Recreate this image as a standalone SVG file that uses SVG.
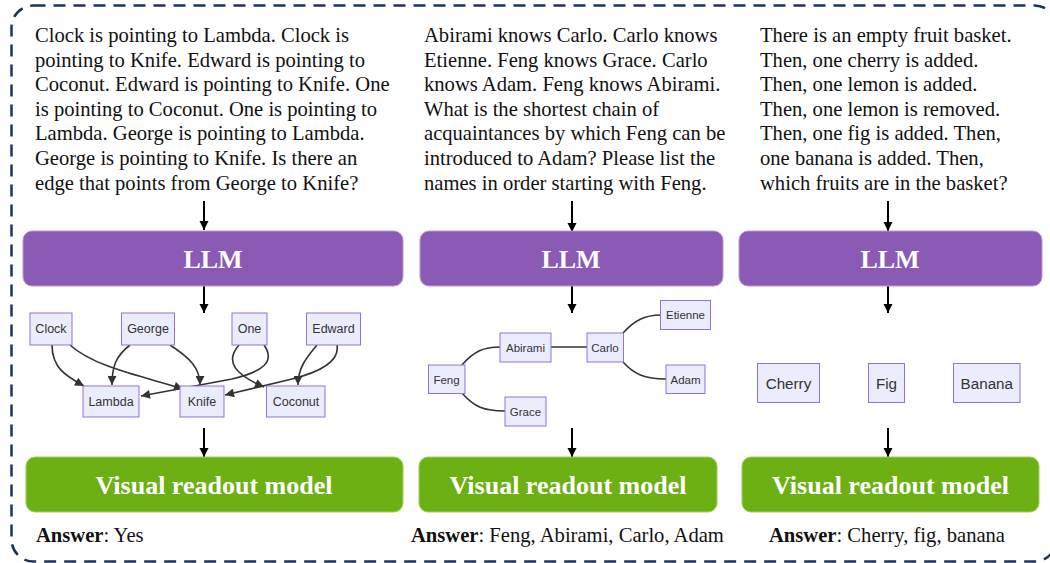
<svg xmlns="http://www.w3.org/2000/svg" width="1050" height="563" viewBox="0 0 1050 563">
<style>
.q{font-family:"Liberation Serif","Times New Roman",serif;font-size:20.6px;fill:#111}
.ans{font-family:"Liberation Serif","Times New Roman",serif;font-size:20.6px;fill:#111}
.llm{fill:#8b5ab5;stroke:#b999d8;stroke-width:1}
.vr{fill:#6cb014;stroke:#9ccf5c;stroke-width:1}
.bt{font-family:"Liberation Serif","Times New Roman",serif;font-weight:bold;font-size:26px;fill:#fff;text-anchor:middle}
.flow{stroke:#000;stroke-width:2;fill:none}
.nd{fill:#ececff;stroke:#9370db;stroke-width:1}
.nt{font-family:"Liberation Sans",Arial,sans-serif;fill:#333;text-anchor:middle;dominant-baseline:central}
.e{stroke:#333;stroke-width:1.6;fill:none}
</style>
<defs>
<marker id="ah" viewBox="0 0 10 10" refX="10" refY="5" markerWidth="9" markerHeight="10" markerUnits="userSpaceOnUse" orient="auto"><path d="M0,0 L10,5 L0,10 z" fill="#000"/></marker>
<marker id="gh" viewBox="0 0 10 10" refX="10" refY="5" markerWidth="10" markerHeight="9" markerUnits="userSpaceOnUse" orient="auto"><path d="M0,0 L10,5 L0,10 z" fill="#333"/></marker>
</defs>
<rect x="11.5" y="5.5" width="1045" height="556" rx="22" fill="none" stroke="#1c3557" stroke-width="2.5" stroke-dasharray="12 8"/>

<g id="questions">
<text class="q" x="35"><tspan x="35" y="42">Clock is pointing to Lambda. Clock is</tspan><tspan x="35" y="66.6">pointing to Knife. Edward is pointing to</tspan><tspan x="35" y="91.2">Coconut. Edward is pointing to Knife. One</tspan><tspan x="35" y="115.8">is pointing to Coconut. One is pointing to</tspan><tspan x="35" y="140.4">Lambda. George is pointing to Lambda.</tspan><tspan x="35" y="165">George is pointing to Knife. Is there an</tspan><tspan x="35" y="189.6">edge that points from George to Knife?</tspan></text>
<text class="q" x="424"><tspan x="424" y="42">Abirami knows Carlo. Carlo knows</tspan><tspan x="424" y="66.6">Etienne. Feng knows Grace. Carlo</tspan><tspan x="424" y="91.2">knows Adam. Feng knows Abirami.</tspan><tspan x="424" y="115.8">What is the shortest chain of</tspan><tspan x="424" y="140.4">acquaintances by which Feng can be</tspan><tspan x="424" y="165">introduced to Adam? Please list the</tspan><tspan x="424" y="189.6">names in order starting with Feng.</tspan></text>
<text class="q" x="760"><tspan x="760" y="42">There is an empty fruit basket.</tspan><tspan x="760" y="66.6">Then, one cherry is added.</tspan><tspan x="760" y="91.2">Then, one lemon is added.</tspan><tspan x="760" y="115.8">Then, one lemon is removed.</tspan><tspan x="760" y="140.4">Then, one fig is added. Then,</tspan><tspan x="760" y="165">one banana is added. Then,</tspan><tspan x="760" y="189.6">which fruits are in the basket?</tspan></text>
</g>

<g id="flow-arrows">
<line class="flow" x1="204" y1="201" x2="204" y2="230" marker-end="url(#ah)"/>
<line class="flow" x1="572" y1="201" x2="572" y2="232" marker-end="url(#ah)"/>
<line class="flow" x1="888" y1="201" x2="888" y2="231" marker-end="url(#ah)"/>
<line class="flow" x1="204" y1="286" x2="204" y2="313" marker-end="url(#ah)"/>
<line class="flow" x1="572" y1="286" x2="572" y2="313" marker-end="url(#ah)"/>
<line class="flow" x1="888" y1="286" x2="888" y2="313" marker-end="url(#ah)"/>
<line class="flow" x1="204" y1="428" x2="204" y2="457" marker-end="url(#ah)"/>
<line class="flow" x1="572" y1="428" x2="572" y2="457" marker-end="url(#ah)"/>
<line class="flow" x1="888" y1="428" x2="888" y2="457" marker-end="url(#ah)"/>
</g>

<g id="llm1"><rect class="llm" x="23" y="231" width="380" height="55" rx="9"/><text class="bt" x="213" y="268">LLM</text></g>
<g id="llm2"><rect class="llm" x="420" y="231" width="303" height="55" rx="9"/><text class="bt" x="571" y="268">LLM</text></g>
<g id="llm3"><rect class="llm" x="739" y="231" width="303" height="55" rx="9"/><text class="bt" x="890" y="268">LLM</text></g>

<g id="vr1"><rect class="vr" x="26" y="457" width="377" height="55" rx="9"/><text class="bt" x="214" y="494">Visual readout model</text></g>
<g id="vr2"><rect class="vr" x="419" y="457" width="298" height="55" rx="9"/><text class="bt" x="568" y="494">Visual readout model</text></g>
<g id="vr3"><rect class="vr" x="742" y="457" width="297" height="55" rx="9"/><text class="bt" x="890.5" y="494">Visual readout model</text></g>

<g id="answers">
<text class="ans" x="36" y="542"><tspan font-weight="bold">Answer</tspan>: Yes</text>
<text class="ans" x="411" y="542"><tspan font-weight="bold">Answer</tspan>: Feng, Abirami, Carlo, Adam</text>
<text class="ans" x="769" y="542"><tspan font-weight="bold">Answer</tspan>: Cherry, fig, banana</text>
</g>

<g id="graph1-edges">
<path class="e" d="M52,345 C52,368 66,376 84,386" marker-end="url(#gh)"/>
<path class="e" d="M70,345 C95,368 150,378 183,389" marker-end="url(#gh)"/>
<path class="e" d="M130,345 C116,356 112,366 112,385" marker-end="url(#gh)"/>
<path class="e" d="M170,345 C190,358 200,368 200,385" marker-end="url(#gh)"/>
<path class="e" d="M239,345 C224,362 236,375 264,387" marker-end="url(#gh)"/>
<path class="e" d="M264,345 C276,362 262,372 232,379 L141,396" marker-end="url(#gh)"/>
<path class="e" d="M317,345 C306,358 298,368 298,385" marker-end="url(#gh)"/>
<path class="e" d="M337,345 C340,362 320,372 292,379 L225,395" marker-end="url(#gh)"/>
</g>
<g id="g1-clock"><rect class="nd" x="30" y="313" width="42" height="32"/><text class="nt" x="51" y="329" font-size="12.5">Clock</text></g>
<g id="g1-george"><rect class="nd" x="121.5" y="313" width="53" height="32"/><text class="nt" x="148" y="329" font-size="12.5">George</text></g>
<g id="g1-one"><rect class="nd" x="232" y="313" width="35" height="32"/><text class="nt" x="249.5" y="329" font-size="12.5">One</text></g>
<g id="g1-edward"><rect class="nd" x="306.5" y="313" width="54" height="32"/><text class="nt" x="333.5" y="329" font-size="12.5">Edward</text></g>
<g id="g1-lambda"><rect class="nd" x="83" y="386" width="56" height="31"/><text class="nt" x="111" y="401.5" font-size="12.5">Lambda</text></g>
<g id="g1-knife"><rect class="nd" x="180" y="386" width="44" height="31"/><text class="nt" x="202" y="401.5" font-size="12.5">Knife</text></g>
<g id="g1-coconut"><rect class="nd" x="266.5" y="386" width="58.5" height="31"/><text class="nt" x="296" y="401.5" font-size="12.5">Coconut</text></g>

<g id="graph2-edges">
<path class="e" d="M462,365 C474,351 484,347 500,347"/>
<path class="e" d="M462,393 C474,407 484,411 505,411"/>
<path class="e" d="M551,347 L587,347"/>
<path class="e" d="M623,333 C634,321 644,315 661,315"/>
<path class="e" d="M623,362 C634,374 644,379 666,379"/>
</g>
<g id="g2-etienne"><rect class="nd" x="660.5" y="300.5" width="50" height="29"/><text class="nt" x="685.5" y="315" font-size="11.5">Etienne</text></g>
<g id="g2-abirami"><rect class="nd" x="500" y="333" width="51" height="29"/><text class="nt" x="525.5" y="347.5" font-size="11.5">Abirami</text></g>
<g id="g2-carlo"><rect class="nd" x="587" y="333" width="36.5" height="29"/><text class="nt" x="605" y="347.5" font-size="11.5">Carlo</text></g>
<g id="g2-feng"><rect class="nd" x="428.5" y="365" width="36.5" height="28.5"/><text class="nt" x="446.5" y="379.5" font-size="11.5">Feng</text></g>
<g id="g2-adam"><rect class="nd" x="666" y="365" width="39" height="28.5"/><text class="nt" x="685.5" y="379.5" font-size="11.5">Adam</text></g>
<g id="g2-grace"><rect class="nd" x="505" y="397" width="41" height="29"/><text class="nt" x="525.5" y="411.5" font-size="11.5">Grace</text></g>

<g id="g3-cherry"><rect class="nd" x="757.5" y="363.5" width="62" height="39"/><text class="nt" x="788.5" y="383" font-size="15.2">Cherry</text></g>
<g id="g3-fig"><rect class="nd" x="868.5" y="363.5" width="36" height="39"/><text class="nt" x="886.5" y="383" font-size="15.2">Fig</text></g>
<g id="g3-banana"><rect class="nd" x="953.5" y="363.5" width="66.5" height="39"/><text class="nt" x="986.8" y="383" font-size="15.2">Banana</text></g>
</svg>
